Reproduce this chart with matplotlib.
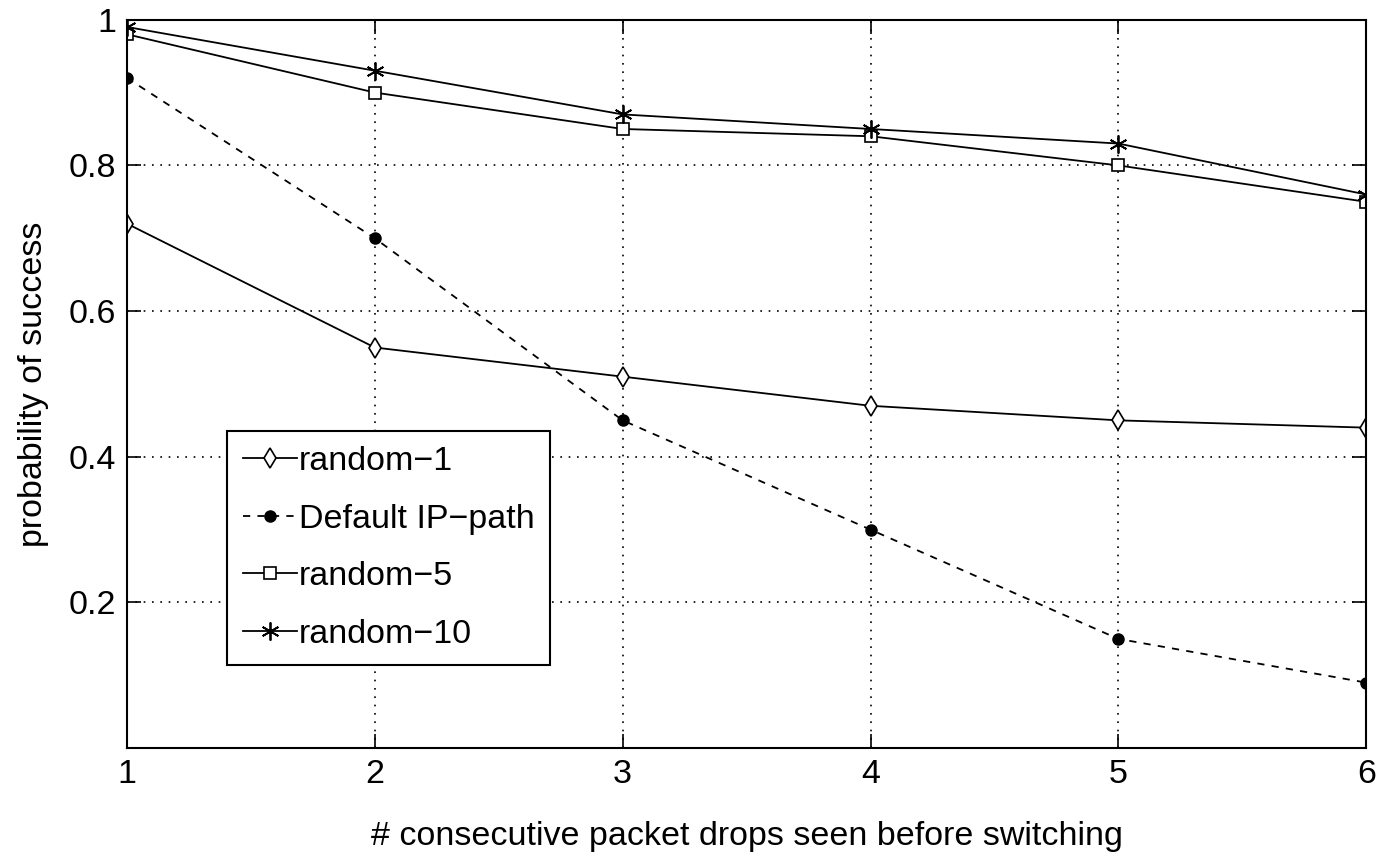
import matplotlib
matplotlib.use("Agg")
import matplotlib.pyplot as plt

# data
x = [1, 2, 3, 4, 5, 6]
random1 = [0.72, 0.55, 0.51, 0.47, 0.45, 0.44]
default_ip = [0.92, 0.70, 0.45, 0.30, 0.15, 0.09]
random5 = [0.98, 0.90, 0.85, 0.84, 0.80, 0.75]
random10 = [0.99, 0.93, 0.87, 0.85, 0.83, 0.76]
yticks = [0.2, 0.4, 0.6, 0.8, 1.0]
yticklabels = ["0.2", "0.4", "0.6", "0.8", "1"]

plt.rcParams['font.family'] = ['Liberation Sans', 'DejaVu Sans']
fs = 24.5

fig = plt.figure(figsize=(13.8, 8.57), dpi=100)
ax = fig.add_axes([0.092, 0.127, 0.898, 0.850])

ax.plot(x, random1, color='black', lw=1.3, marker='d', ms=10, mfc='white', mec='black', mew=1.2, label='random\u22121')
ax.plot(x, default_ip, color='black', lw=1.3, ls=(0, (4, 4)), marker='o', ms=8, mfc='black', label='Default IP\u2212path')
ax.plot(x, random5, color='black', lw=1.3, marker='s', ms=8, mfc='white', mec='black', mew=1.2, label='random\u22125')
# matlab style '*' marker: six-spoke asterisk
ax.plot(x, random10, color='black', lw=1.3, marker=(6, 2, 0), ms=13, mew=1.3, mec='black', label='random\u221210')

ax.set_xlim(1, 6)
ax.set_ylim(0, 1)
ax.set_xticks(x)
ax.set_yticks(yticks)
ax.set_yticklabels(yticklabels)
ax.tick_params(direction='in', length=10, width=1.2, labelsize=fs, pad=8)
ax.tick_params(top=True, right=True)
for s in ax.spines.values():
    s.set_linewidth(1.5)
ax.grid(True, color='black', ls=(0, (1, 4)), lw=1.2)

ax.set_xlabel('# consecutive packet drops seen before switching', fontsize=fs, labelpad=22)
ax.set_ylabel('probability of success', fontsize=fs, labelpad=14)

leg = ax.legend(loc='lower left', bbox_to_anchor=(0.081, 0.114), fontsize=fs, handlelength=1.6,
                handletextpad=0.05, borderpad=0.45, borderaxespad=0, labelspacing=0.78, fancybox=False,
                framealpha=1, edgecolor='black')
leg.get_frame().set_linewidth(1.5)

fig.savefig('out.png', dpi=100)
